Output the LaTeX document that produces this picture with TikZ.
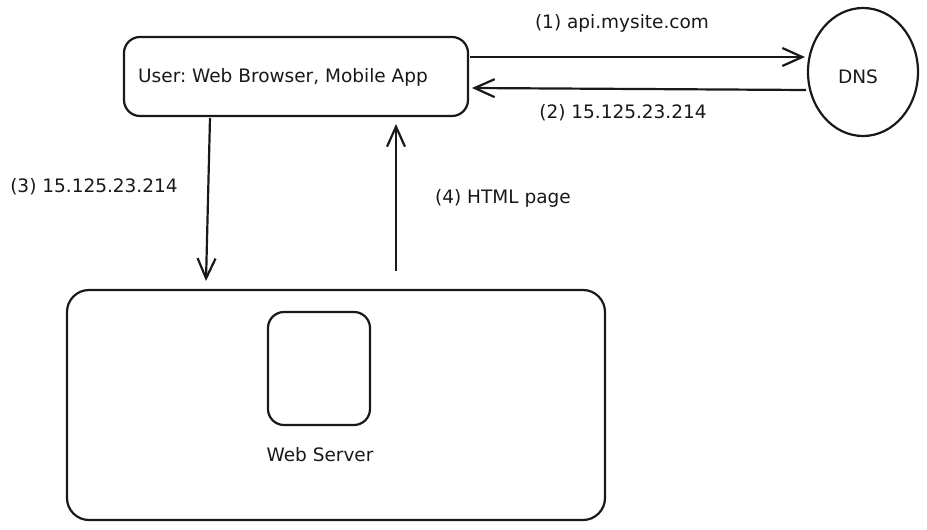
\documentclass[tikz,border=0pt]{standalone}
\usepackage{fontspec}
\setmainfont{DejaVu Sans}
\usetikzlibrary{arrows.meta,shapes.geometric}
\tikzset{
  box/.style={draw=black!90, line width=2.2pt, rounded corners=16pt, fill=white},
  conn/.style={draw=black!90, line width=2.2pt, -{Straight Barb[length=20pt,width=18pt,line width=2.2pt]}},
  lbl/.style={font=\fontsize{18.5}{22}\selectfont, text=black!90, inner sep=0pt},
}
\begin{document}
\frenchspacing
\begin{tikzpicture}[x=1pt,y=-1pt]
\useasboundingbox[fill=white] (0,0) rectangle (927,530);
% User box
\node[box, minimum width=344pt, minimum height=79pt] (user) at (296,76.5) {};
\node[lbl] (usertxt) at (283,77) {User: Web Browser, Mobile App};
% DNS
\node[draw=black!90, line width=2.2pt, ellipse, minimum width=110pt, minimum height=128pt, inner sep=0pt] (dns) at (863,72) {};
\node[lbl] (dnstxt) at (858,77) {DNS};
% Server
\node[box, rounded corners=22pt, minimum width=538pt, minimum height=230pt] (srv) at (336,405) {};
\node[box, minimum width=102pt, minimum height=113pt] (inner) at (319,368.5) {};
\node[lbl] (srvtxt) at (320,455) {Web Server};
% coordinates
\coordinate (a1s) at (470,57);
\coordinate (a1e) at (805,57);
\coordinate (a2s) at (806,90);
\coordinate (a2e) at (472,88);
\coordinate (a3s) at (210,118);
\coordinate (a3e) at (206,281);
\coordinate (a4s) at (396,271);
\coordinate (a4e) at (396,124);
\draw[conn] (a1s) -- (a1e);
\draw[conn] (a2s) -- (a2e);
\draw[conn] (a3s) -- (a3e);
\draw[conn] (a4s) -- (a4e);
% labels
\node[lbl] (l1) at (622,23) {(1) api.mysite.com};
\node[lbl] (l2) at (623,113) {(2) 15.125.23.214};
\node[lbl] (l3) at (94,187) {(3) 15.125.23.214};
\node[lbl] (l4) at (503,198) {(4) HTML page};
\end{tikzpicture}
\end{document}
